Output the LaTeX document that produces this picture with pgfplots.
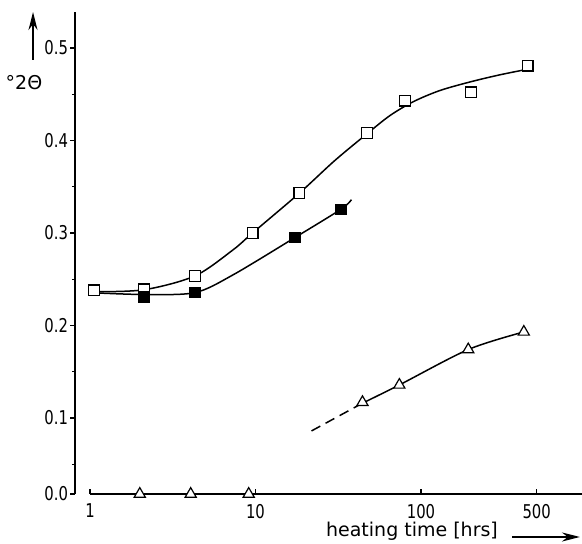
\documentclass[border=0pt]{standalone}
\usepackage{pgfplots}
\pgfplotsset{compat=1.18}
\usepackage{fontspec}
\setmainfont{DejaVu Sans}
\newfontfamily\tickfont[FakeStretch=0.78]{DejaVu Sans}
\usetikzlibrary{arrows.meta}
\begin{document}
\begin{tikzpicture}
\begin{axis}[
  name=ax,
  scale only axis,
  width=253.5pt, height=241pt,
  xmode=log, log basis x=10,
  xmin=0.812, xmax=939,
  ymin=0.0178, ymax=0.5389,
  axis x line*=bottom, axis y line*=left,
  x axis line style={draw=none},
  y axis line style={-, line width=0.75pt},
  xtick={1,10,100,500}, xticklabels={1,10,100,500},
  xminorticks=false,
  ytick={0.0178,0.1,0.2,0.3,0.4,0.5},
  yticklabels={0.0,0.1,0.2,0.3,0.4,0.5},
  minor ytick={0.05,0.15,0.25,0.35,0.45},
  tick style={black, line width=0.6pt},
  major tick length=2.5pt, minor tick length=1.5pt,
  xtick align=inside, ytick align=outside,
  ticklabel style={font=\tickfont\fontsize{9.5}{10}\selectfont},
  xticklabel style={yshift=-1.5pt},
  yticklabel style={xshift=2.5pt},
  clip=false,
]
% x axis line starting at t = 1
\draw[line width=0.75pt] (axis cs:1,0.0178) -- (axis cs:939,0.0178);

% open squares: fitted curve and points
\addplot[black, line width=0.75pt, smooth, tension=0.5] coordinates {
  (1.0,0.2365) (2.1,0.2385) (4.3,0.2535) (7.3,0.2816) (9.6,0.300)
  (18.4,0.343) (30,0.378) (47,0.407) (65,0.427) (90,0.442) (130,0.454)
  (200,0.4635) (300,0.471) (440,0.477)};
\addplot[only marks, mark=square*, mark size=2.7pt,
  mark options={fill=white, draw=black, line width=0.6pt}] coordinates {
  (1.06,0.238) (2.12,0.239) (4.31,0.2535) (9.6,0.300) (18.4,0.343)
  (47,0.408) (80,0.443) (200,0.452) (441,0.481)};

% filled squares
\addplot[black, line width=0.75pt, smooth, tension=0.5] coordinates {
  (1.0,0.2355) (2.1,0.2335) (4.3,0.2355) (7.3,0.2546) (17.3,0.295)
  (32.8,0.3256) (38,0.336)};
\addplot[only marks, mark=square*, mark size=2.6pt,
  mark options={fill=black, draw=black}] coordinates {
  (2.12,0.231) (4.3,0.2355) (17.3,0.295) (32.8,0.3256)};

% open triangles (upper)
\addplot[black, line width=0.75pt, dash pattern=on 5pt off 3pt] coordinates {
  (21.8,0.086) (44.3,0.116)};
\addplot[black, line width=0.75pt, smooth, tension=0.5] coordinates {
  (44.3,0.116) (74,0.1357) (193,0.174) (418,0.193)};
\addplot[only marks, mark=triangle*, mark size=3.2pt,
  mark options={fill=white, draw=black, line width=0.6pt}] coordinates {
  (44.3,0.117) (74,0.1357) (193,0.174) (418,0.193)};

% open triangles on the zero line
\addplot[only marks, mark=triangle*, mark size=3.2pt,
  mark options={fill=white, draw=black, line width=0.6pt},
  y filter/.expression={y+0.0178}] coordinates {
  (2.0,0) (4.06,0) (9.1,0)};

% axis labels and arrows
\node[font=\fontsize{9.5}{10}\selectfont] at (rel axis cs:-0.1006,0.8527) {°2Θ};
\draw[line width=0.9pt, -{Stealth[length=9pt,width=4.5pt]}]
  (rel axis cs:-0.0828,0.9004) -- (rel axis cs:-0.0828,1.0);
\node[font=\fontsize{9.5}{10}\selectfont] at (rel axis cs:0.6647,-0.0768) {heating time [hrs]};
\draw[line width=0.9pt, -{Stealth[length=9pt,width=4.5pt]}]
  (rel axis cs:0.862,-0.0892) -- (rel axis cs:0.996,-0.0892);
\end{axis}
\pgfresetboundingbox
\path (ax.south west) ++(-37.5pt,-25pt) coordinate (bl);
\path (ax.north east) ++(0pt,6pt) coordinate (tr);
\path[use as bounding box] (bl) rectangle (tr);
\end{tikzpicture}
\end{document}
